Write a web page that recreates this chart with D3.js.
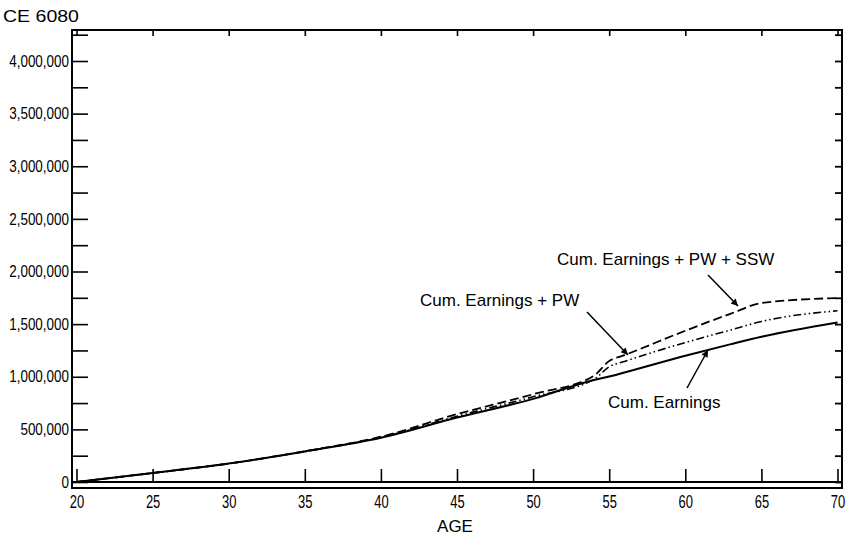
<!DOCTYPE html>
<html>
<head>
<meta charset="utf-8">
<script src="https://cdn.jsdelivr.net/npm/d3@7"></script>
<style>
  html, body { margin: 0; padding: 0; background: #fff; }
  svg { display: block; }
  .narrow { font-family: "Liberation Sans", Arial, sans-serif; }
  .reg { font-family: "Liberation Sans", Arial, sans-serif; }
</style>
</head>
<body>
<svg id="chart" width="849" height="538"></svg>
<script>
// ---- data ----
const ages = [20, 25, 30, 35, 40, 45, 50, 54, 55, 56, 60, 63, 65, 70];
const cumEarnings      = [0, 85000, 175000, 290000, 420000, 612000, 790000, 970000, 1002000, 1040000, 1199000, 1310000, 1380000, 1516000];
const cumEarningsPW    = [0, 85000, 175000, 290000, 424000, 625000, 810000, 975000, 1095000, 1145000, 1325000, 1445000, 1525000, 1627000];
const cumEarningsPWSSW = [0, 85000, 175000, 292000, 430000, 645000, 834000, 1010000, 1150000, 1205000, 1437000, 1600000, 1700000, 1748000];
const xTicks = [20, 25, 30, 35, 40, 45, 50, 55, 60, 65, 70];
const yLabelTicks = [0, 500000, 1000000, 1500000, 2000000, 2500000, 3000000, 3500000, 4000000];
const yMinorTicks = [0, 250000, 500000, 750000, 1000000, 1250000, 1500000, 1750000, 2000000, 2250000, 2500000, 2750000, 3000000, 3250000, 3500000, 3750000, 4000000, 4250000];
const labels = [
  { text: "Cum. Earnings + PW + SSW", series: "ssw" },
  { text: "Cum. Earnings + PW", series: "pw" },
  { text: "Cum. Earnings", series: "earn" }
];
const figureId = "CE 6080";
const xTitle = "AGE";

// ---- layout ----
const svg = d3.select("#chart");
const frame = { left: 72, right: 842, top: 30, bottom: 488 };
const x = d3.scaleLinear().domain([20, 70]).range([76.5, 837.5]);
const y = d3.scaleLinear().domain([0, 4000000]).range([482, 61]);

function squeeze(sel, factor) {
  sel.each(function () {
    const w = this.getComputedTextLength();
    d3.select(this).attr("textLength", w * factor).attr("lengthAdjust", "spacingAndGlyphs");
  });
}

svg.append("defs").append("marker")
  .attr("id", "arrow").attr("viewBox", "0 0 10 10")
  .attr("refX", 10).attr("refY", 5)
  .attr("markerWidth", 9).attr("markerHeight", 7)
  .attr("markerUnits", "userSpaceOnUse")
  .attr("orient", "auto")
  .append("path").attr("d", "M0,0 L10,5 L0,10 Z").attr("fill", "#000");

// frame
svg.append("rect")
  .attr("x", frame.left).attr("y", frame.top)
  .attr("width", frame.right - frame.left).attr("height", frame.bottom - frame.top)
  .attr("fill", "none").attr("stroke", "#000").attr("stroke-width", 2);

// x axis line at zero
svg.append("line")
  .attr("x1", frame.left).attr("x2", frame.right)
  .attr("y1", y(0)).attr("y2", y(0))
  .attr("stroke", "#000").attr("stroke-width", 2);

// bottom x ticks (upward) + labels
const xAxis = d3.axisBottom(x).tickValues(xTicks).tickSize(-13).tickSizeOuter(0).tickPadding(16);
const gx = svg.append("g").attr("transform", `translate(0,${y(0)})`).call(xAxis);
gx.select(".domain").remove();
gx.selectAll(".tick line").attr("stroke", "#000").attr("stroke-width", 1.6);
gx.selectAll(".tick text").attr("class", "narrow").attr("font-size", 18).attr("font-family", "Liberation Sans, Arial, sans-serif")
  .attr("fill", "#000").attr("dy", "0.55em").call(squeeze, 0.72);

// top ticks (downward)
const xTop = d3.axisTop(x).tickValues(xTicks).tickSize(-6).tickSizeOuter(0).tickFormat("");
const gxt = svg.append("g").attr("transform", `translate(0,${frame.top})`).call(xTop);
gxt.select(".domain").remove();
gxt.selectAll(".tick line").attr("stroke", "#000").attr("stroke-width", 1.6);

// left y ticks (inward)
const yAxisL = d3.axisLeft(y).tickValues(yMinorTicks).tickSize(-16).tickSizeOuter(0).tickFormat("");
const gyl = svg.append("g").attr("transform", `translate(${frame.left},0)`).call(yAxisL);
gyl.select(".domain").remove();
gyl.selectAll(".tick line").attr("stroke", "#000").attr("stroke-width", 1.6);

// left labels
const yAxisLab = d3.axisLeft(y).tickValues(yLabelTicks).tickSize(0).tickPadding(3).tickFormat(d3.format(","));
const gylab = svg.append("g").attr("transform", `translate(${frame.left},0)`).call(yAxisLab);
gylab.select(".domain").remove();
gylab.selectAll(".tick text").attr("class", "narrow").attr("font-size", 16).attr("font-family", "Liberation Sans, Arial, sans-serif")
  .attr("fill", "#000").call(squeeze, 0.84);

// right y ticks (inward)
const yAxisR = d3.axisRight(y).tickValues(yMinorTicks).tickSize(-7).tickSizeOuter(0).tickFormat("");
const gyr = svg.append("g").attr("transform", `translate(${frame.right},0)`).call(yAxisR);
gyr.select(".domain").remove();
gyr.selectAll(".tick line").attr("stroke", "#000").attr("stroke-width", 1.8);

// lines
const pts = vals => ages.map((a, i) => [a, vals[i]]);
const line = d3.line().x(d => x(d[0])).y(d => y(d[1])).curve(d3.curveMonotoneX);

svg.append("path").datum(pts(cumEarningsPWSSW)).attr("d", line)
  .attr("fill", "none").attr("stroke", "#000").attr("stroke-width", 1.8)
  .attr("stroke-dasharray", "9,4");
svg.append("path").datum(pts(cumEarningsPW)).attr("d", line)
  .attr("fill", "none").attr("stroke", "#000").attr("stroke-width", 1.6)
  .attr("stroke-dasharray", "8,3,1.5,3,1.5,3");
svg.append("path").datum(pts(cumEarnings)).attr("d", line)
  .attr("fill", "none").attr("stroke", "#000").attr("stroke-width", 2);

// annotations
const labelPos = {
  ssw:  { tx: 557, ty: 265, ax1: 708, ay1: 275, ax2: 738, ay2: 306 },
  pw:   { tx: 420, ty: 306, ax1: 587, ay1: 312, ax2: 628, ay2: 355 },
  earn: { tx: 608, ty: 408, ax1: 687, ay1: 388, ax2: 708, ay2: 350 }
};
labels.forEach(l => {
  const p = labelPos[l.series];
  svg.append("text").attr("class", "reg").attr("x", p.tx).attr("y", p.ty)
    .attr("font-size", 17).attr("fill", "#000").text(l.text);
  svg.append("line").attr("x1", p.ax1).attr("y1", p.ay1).attr("x2", p.ax2).attr("y2", p.ay2)
    .attr("stroke", "#000").attr("stroke-width", 1.5).attr("marker-end", "url(#arrow)");
});

// titles
svg.append("text").attr("class", "reg").attr("x", 3).attr("y", 22)
  .attr("font-size", 17).attr("fill", "#000")
  .attr("textLength", 76).attr("lengthAdjust", "spacingAndGlyphs").text(figureId);
svg.append("text").attr("class", "reg").attr("x", (x(20) + x(70)) / 2 - 2).attr("y", 532)
  .attr("text-anchor", "middle").attr("font-size", 17).attr("fill", "#000").text(xTitle);
</script>
</body>
</html>
